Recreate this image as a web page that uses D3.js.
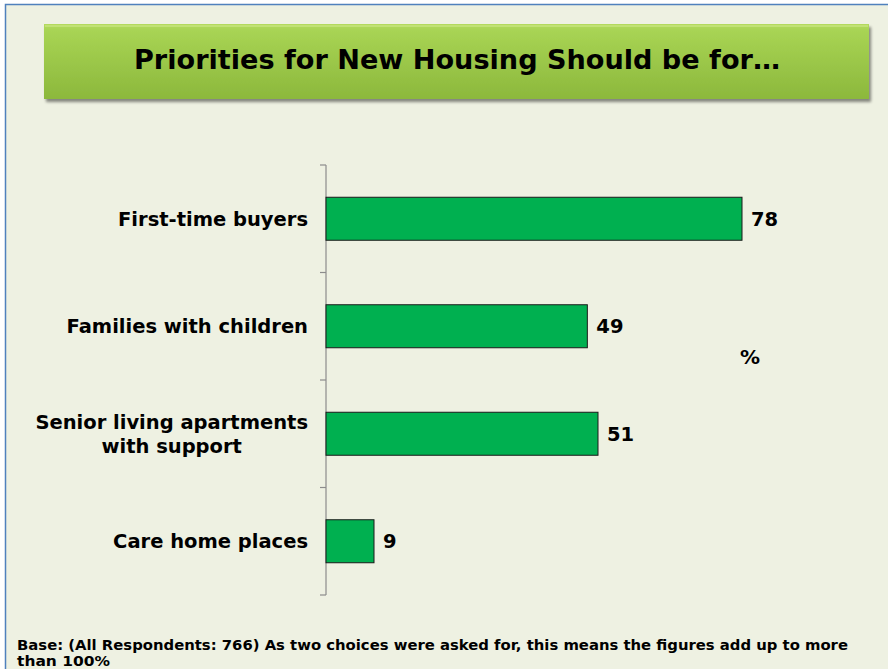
<!DOCTYPE html>
<html><head><meta charset="utf-8">
<script src="https://cdn.jsdelivr.net/npm/d3@7/dist/d3.min.js"></script>
<style>html,body{margin:0;padding:0;background:#fff;}svg{display:block;}</style>
</head><body>
<script>
const categories = [["First-time buyers"], ["Families with children"], ["Senior living apartments", "with support"], ["Care home places"]];
const values = [78, 49, 51, 9];
const titleText = "Priorities for New Housing Should be for…";
const unitLabel = "%";
const footLines = ["Base: (All Respondents: 766) As two choices were asked for, this means the figures add up to more", "than 100%"];

const W = 888, H = 669;
const svg = d3.select("body").append("svg").attr("width", W).attr("height", H);
const defs = svg.append("defs");
const g1 = defs.append("linearGradient").attr("id","tg").attr("x1",0).attr("y1",0).attr("x2",0).attr("y2",1);
g1.append("stop").attr("offset","0%").attr("stop-color","#b4da5e");
g1.append("stop").attr("offset","8%").attr("stop-color","#a8d454");
g1.append("stop").attr("offset","100%").attr("stop-color","#8cb83c");
const f = defs.append("filter").attr("id","sh").attr("x","-5%").attr("y","-20%").attr("width","110%").attr("height","150%");
f.append("feGaussianBlur").attr("in","SourceAlpha").attr("stdDeviation",1.5);
f.append("feOffset").attr("dx",2).attr("dy",3).attr("result","b");
f.append("feComponentTransfer").append("feFuncA").attr("type","linear").attr("slope",0.45);
const m = f.append("feMerge"); m.append("feMergeNode"); m.append("feMergeNode").attr("in","SourceGraphic");

// background frame
svg.append("rect").attr("x",0).attr("y",0).attr("width",W).attr("height",H).attr("fill","#ffffff");
svg.append("rect").attr("x",5.5).attr("y",4.5).attr("width",W+10).attr("height",H+10)
  .attr("fill","#eef1e2").attr("stroke","#4f81bd").attr("stroke-width",1.5);

// title box
svg.append("rect").attr("x",44).attr("y",24).attr("width",825).attr("height",75)
  .attr("fill","url(#tg)").attr("filter","url(#sh)");
svg.append("rect").attr("x",45).attr("y",25).attr("width",823).attr("height",2).attr("fill","#c8e680").attr("opacity",0.7);
svg.append("text").attr("x",457).attr("y",69).attr("text-anchor","middle")
  .attr("font-family","DejaVu Sans, Verdana, sans-serif").attr("font-weight","bold").attr("font-size",27)
  .attr("textLength",646).attr("lengthAdjust","spacingAndGlyphs")
  .attr("fill","#000").text(titleText);

// scales
const y = d3.scaleBand().domain(d3.range(categories.length)).range([165,595]).paddingInner(0.6).paddingOuter(0.3);
const x = d3.scaleLinear().domain([0,78]).range([326,742]);

// axis
const axis = d3.axisLeft(y).tickSize(0).tickFormat("");
const ag = svg.append("g").attr("transform","translate(326,0)").call(axis);
ag.select(".domain").remove();
svg.append("line").attr("x1",326).attr("x2",326).attr("y1",165).attr("y2",595).attr("stroke","#8c8c8c").attr("stroke-width",1.2);
const bounds = d3.range(categories.length+1).map(i => 165 + i*y.step());
svg.selectAll(".tk").data(bounds).enter().append("line")
  .attr("x1",320).attr("x2",326).attr("y1",d=>d).attr("y2",d=>d).attr("stroke","#8c8c8c").attr("stroke-width",1.2);

// bars
svg.selectAll(".bar").data(values).enter().append("rect")
  .attr("x",x(0)).attr("y",(d,i)=>y(i)).attr("width",d=>x(d)-x(0)).attr("height",y.bandwidth())
  .attr("fill","#00b050").attr("stroke","#1a1a1a").attr("stroke-width",1);

// value labels
svg.selectAll(".val").data(values).enter().append("text")
  .attr("x",d=>x(d)+9).attr("y",(d,i)=>y(i)+y.bandwidth()/2+7)
  .attr("font-family","DejaVu Sans, Verdana, sans-serif").attr("font-weight","bold").attr("font-size",19.5)
  .attr("fill","#000").text(d=>d);

// category labels
categories.forEach((lines,i)=>{
  const cy = y(i)+y.bandwidth()/2;
  const t = svg.append("text").attr("font-family","DejaVu Sans, Verdana, sans-serif").attr("font-weight","bold")
    .attr("font-size",19.5).attr("fill","#000");
  const lh = 24;
  const y0 = cy - (lines.length-1)*lh/2 + 7;
  lines.forEach((l,j)=>{
    t.append("tspan").attr("x",0).attr("y",y0+j*lh).attr("text-anchor","middle").text(l);
  });
  const bb = t.node().getBBox();
  t.attr("transform",`translate(${308 - bb.width/2},0)`);
});

// unit label
svg.append("text").attr("x",750).attr("y",364).attr("text-anchor","middle")
  .attr("font-family","DejaVu Sans, Verdana, sans-serif").attr("font-weight","bold").attr("font-size",20)
  .attr("fill","#000").text(unitLabel);

// footnote
svg.append("text").attr("x",17).attr("y",650)
  .attr("font-family","DejaVu Sans, Verdana, sans-serif").attr("font-weight","bold").attr("font-size",14)
  .attr("textLength",831).attr("lengthAdjust","spacingAndGlyphs").attr("fill","#000").text(footLines[0]);
svg.append("text").attr("x",17).attr("y",666)
  .attr("font-family","DejaVu Sans, Verdana, sans-serif").attr("font-weight","bold").attr("font-size",14)
  .attr("textLength",93).attr("lengthAdjust","spacingAndGlyphs").attr("fill","#000").text(footLines[1]);
</script>
</body></html>
